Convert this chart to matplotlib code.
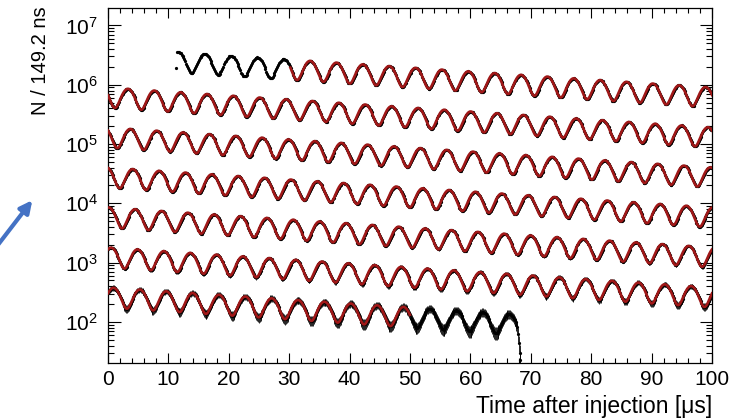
import numpy as np
import matplotlib
matplotlib.use("Agg")
import matplotlib.pyplot as plt
from matplotlib.ticker import LogLocator, MultipleLocator, NullFormatter, FixedLocator, FixedFormatter
from matplotlib.patches import FancyArrowPatch

plt.rcParams["font.family"] = ["Liberation Sans", "DejaVu Sans"]
plt.rcParams["mathtext.fontset"] = "custom"
plt.rcParams["mathtext.rm"] = "Liberation Sans"
plt.rcParams["mathtext.it"] = "Liberation Sans:italic"

# ---- values (wiggle fit parameters) ----
N0 = 3.1e6          # counts / 149.2 ns extrapolated to t = 0
tau = 64.4          # dilated muon lifetime [us]
asym = 0.37         # wiggle asymmetry
period = 4.365      # anomalous precession period [us]
t_peak = 11.65      # time of first visible maximum [us]

bin_width = 0.1492  # us
data_start, data_end = 11.45, 667.9
fit_start, fit_end = 30.2, 650.0
wrap = 100.0        # each row shows 100 us
n_rows = 7
stat_scale = 4.0    # error bar = sqrt(stat_scale * N)

first_bin_t, first_bin_n = 11.25, 1.9e6
tail_t = [667.95, 668.05, 668.15, 668.25]
tail_n = [62, 45, 30, 23]

xticks = [0, 10, 20, 30, 40, 50, 60, 70, 80, 90, 100]
ytick_exps = [2, 3, 4, 5, 6, 7]
ylims = (20.3, 1.97e7)


def wiggle(t):
    return N0 * np.exp(-t / tau) * (1 + asym * np.cos(2 * np.pi * (t - t_peak) / period))


fig = plt.figure(figsize=(7.32, 4.19), dpi=100)
ax = fig.add_axes([108 / 732, 1 - 363 / 419, (712 - 108) / 732, (363 - 8) / 419])

# data
t_data = np.arange(data_start, data_end, bin_width)
n_data = wiggle(t_data)
t_data = np.concatenate([[first_bin_t], t_data, tail_t])
n_data = np.concatenate([[first_bin_n], n_data, tail_n])
err = np.sqrt(stat_scale * n_data)
err_lo = np.minimum(err, n_data * 0.6)

# fit
t_fit = np.arange(fit_start, fit_end, 0.02)
n_fit = wiggle(t_fit)

red = "#a01818"
for i in range(n_rows):
    lo, hi = i * wrap, (i + 1) * wrap
    m = (t_data >= lo) & (t_data < hi)
    if m.any():
        ax.errorbar(t_data[m] - lo, n_data[m], yerr=[err_lo[m], err[m]], fmt="o", ms=1.3,
                    mec="black", mfc="black", ecolor="black", elinewidth=0.6, capsize=0,
                    zorder=2)
    mf = (t_fit >= lo) & (t_fit <= hi)
    if mf.any():
        ax.plot(t_fit[mf] - lo, n_fit[mf], color=red, lw=1.9, zorder=3)

ax.set_yscale("log")
ax.set_xlim(0, 100)
ax.set_ylim(*ylims)

ax.xaxis.set_major_locator(FixedLocator(xticks))
ax.xaxis.set_minor_locator(MultipleLocator(2))
ax.yaxis.set_major_locator(FixedLocator([10.0 ** e for e in ytick_exps]))
ax.yaxis.set_major_formatter(FixedFormatter([r"$\mathregular{10^{%d}}$" % e for e in ytick_exps]))
ax.yaxis.set_minor_locator(LogLocator(base=10, subs=np.arange(2, 10), numticks=20))
ax.yaxis.set_minor_formatter(NullFormatter())

ax.tick_params(axis="both", which="both", direction="in", top=True, right=True,
               width=0.8, labelsize=15, colors="black")
ax.tick_params(axis="x", which="major", length=7.2, pad=5)
ax.tick_params(axis="x", which="minor", length=3.6)
ax.tick_params(axis="y", which="major", length=9, pad=7)
ax.tick_params(axis="y", which="minor", length=4.5)
for s in ax.spines.values():
    s.set_linewidth(0.9)

fig.text(712 / 732, 1 - 406 / 419, "Time after injection [μs]", ha="right", va="center",
         fontsize=16.5)
fig.text(40 / 732, 1 - 6 / 419, "N / 149.2 ns", rotation=90, ha="center", va="top",
         fontsize=14.5)

arrow = FancyArrowPatch((-6 / 732, 1 - 250 / 419), (34 / 732, 1 - 198 / 419),
                        transform=fig.transFigure, arrowstyle="-|>", mutation_scale=18,
                        color="#4472c4", lw=3)
fig.patches.append(arrow)

fig.savefig("out.png", dpi=100)
